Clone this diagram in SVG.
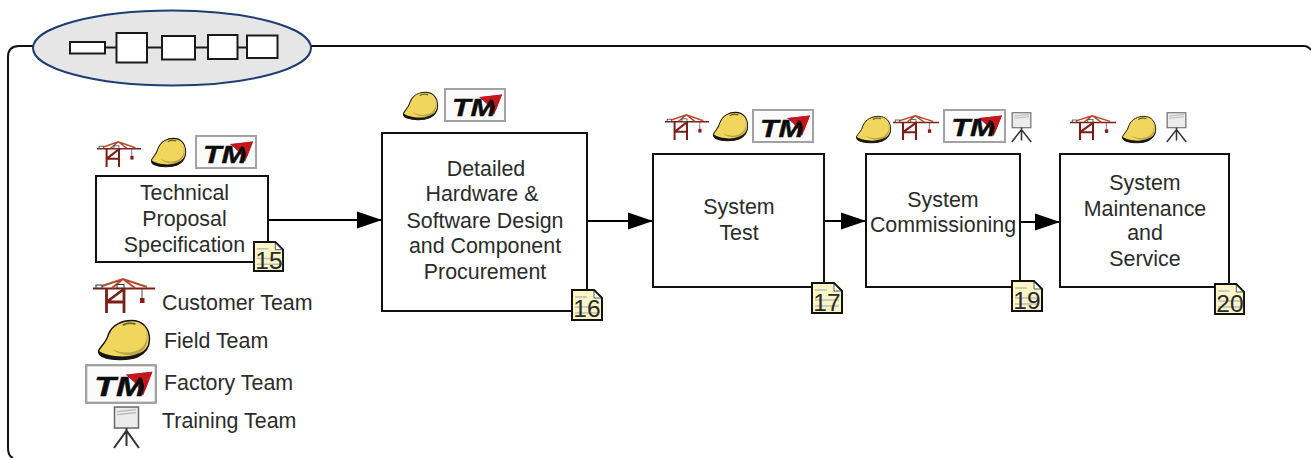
<svg xmlns="http://www.w3.org/2000/svg" width="1311" height="458" viewBox="0 0 1311 458">
<style>
text{font-family:"Liberation Sans",Arial,sans-serif;fill:#2b2b2b}
.l{font-size:21.4px;text-anchor:middle}
.t{font-size:21.4px}
.n{font-size:24.500px;text-anchor:middle}
.box{fill:#fff;stroke:#111;stroke-width:2}
.mini{fill:#fff;stroke:#1a1a1a;stroke-width:2}
.c{fill:none;stroke:#111;stroke-width:2}
.a{fill:none;stroke:#000;stroke-width:2;marker-end:url(#ah)}
</style>
<defs>
<marker id="ah" markerUnits="userSpaceOnUse" markerWidth="26" markerHeight="18" refX="25" refY="9" orient="auto"><path d="M0 0.500L25 9L0 17.500Z" fill="#000"/></marker>
<symbol id="crane" viewBox="0 0 62 35" preserveAspectRatio="none" overflow="visible">
<path d="M0 10.500H62" stroke="#7a1f18" stroke-width="2.200" fill="none"/>
<path d="M6 9L30 1L54 9M30 1L19 10M30 1L42 10" stroke="#b5492c" stroke-width="2" fill="none"/>
<path d="M13.500 10V35M31 10V35M13.500 24H31M13.500 24L31 11" stroke="#7a1f18" stroke-width="2.800" fill="none"/>
<rect x="3" y="7" width="6" height="3" fill="#fff" stroke="#333" stroke-width="1"/>
<rect x="24" y="6.500" width="7" height="3.500" fill="#fff" stroke="#333" stroke-width="1"/>
<path d="M49 11V20" stroke="#666" stroke-width="1.200"/><rect x="47" y="20" width="4.500" height="5" fill="#8e1b1b"/>
</symbol>
<symbol id="helmet" viewBox="0 0 50 39" preserveAspectRatio="none" overflow="visible">
<path d="M0.500 30C3 25 8 22 10 14C14 4 24 0.500 32 0.500C44 0.500 49.500 9 49.500 19C49.500 28 44 33 38 36C28 40 12 39 5 36C2 35 0.500 33 0.500 30Z" fill="#f0d65c" stroke="#151515" stroke-width="1.400"/>
<path d="M46 10C49 20 44 29 34 31C26 33 18 31 14 28C17 33 30 36 38 33C47 29 50 19 46 10Z" fill="#b9a64a"/>
<path d="M0.800 30C7 35 26 38 38 33C44 31 48 27 49.500 21C49 28 44 33 38 36C28 40 12 39 5 36C2 35 0.800 33 0.800 30Z" fill="#171510"/>
<path d="M24 5C28 2.500 32 2.500 36 4" stroke="#6a6330" stroke-width="1.800" fill="none"/>
</symbol>
<symbol id="tm" viewBox="0 0 62 34" preserveAspectRatio="none" overflow="visible">
<rect x="1" y="1" width="60" height="32" fill="#fbfbfb" stroke="#a2a2a2" stroke-width="2"/>
<path d="M35 9L58 6.500L50 27L44 17Z" fill="#c4161c"/>
<text x="8" y="27.500" textLength="44" lengthAdjust="spacingAndGlyphs" style="font-family:'Liberation Sans',Arial,sans-serif;font-size:24px;font-weight:bold;font-style:italic;fill:#0c0c0c;stroke:#0c0c0c;stroke-width:.4">TM</text>
<path d="M38 9L58 6.500L52 22L49 12Z" fill="#c4161c"/>
</symbol>
<symbol id="train" viewBox="0 0 27 41" preserveAspectRatio="none" overflow="visible">
<rect x="1.500" y="1" width="24" height="20.500" fill="#ececec" stroke="#6a6a6a" stroke-width="1.500"/>
<path d="M4 5.500L23 3.500M4 8.500L23 6.500" stroke="#b5b5b5" stroke-width="1.200"/>
<path d="M13.500 21.500V39M13.500 24L1 41M13.500 24L26 41" stroke="#333" stroke-width="2" fill="none"/>
</symbol>
<symbol id="note" viewBox="0 0 32 32" preserveAspectRatio="none" overflow="visible">
<path d="M1 1H23L31 9V31H1Z" fill="#fbf6c6" stroke="#111" stroke-width="2"/>
<path d="M23 2L30 9H23Z" fill="#fff" stroke="#333" stroke-width=".8"/>
<path d="M4 8H16M4 18H28M4 24H28" stroke="#bdbdbd" stroke-width="1.500"/>
</symbol>
</defs>

<g id="frame">
<path class="c" d="M1311 50Q1308 46 1304 46H19Q8 46 8 57V448Q8 456 13 458"/>
</g>
<g id="header">
<ellipse cx="172" cy="48" rx="139" ry="37.500" fill="#e6e6e6" stroke="#1f3d73" stroke-width="2"/>
<path d="M105 47.500H278" stroke="#1a1a1a" stroke-width="2"/>
<rect class="mini" x="70" y="42" width="35" height="11.500"/>
<rect class="mini" x="116.500" y="33" width="30.500" height="29.500"/>
<rect class="mini" x="162" y="36" width="33" height="23.500"/>
<rect class="mini" x="208" y="35" width="29.500" height="24"/>
<rect class="mini" x="247" y="35.500" width="30.500" height="22.500"/>
</g>

<g id="connectors">
<path class="a" d="M268 220H382"/>
<path class="a" d="M587 221H653"/>
<path class="a" d="M824 221H866"/>
<path class="a" d="M1020 222H1060"/>
</g>

<g id="node-15">
<rect class="box" x="96" y="176" width="172" height="86"/>
<text class="l" x="184.500" y="200">Technical</text>
<text class="l" x="184.500" y="226">Proposal</text>
<text class="l" x="184.500" y="252">Specification</text>
<use href="#crane" x="97" y="141" width="44" height="26"/>
<use href="#helmet" x="151" y="138" width="35" height="29"/>
<use href="#tm" x="195" y="135" width="62" height="34"/>
<use href="#note" x="253" y="241" width="31" height="31"/>
<text class="n" x="269" y="269">15</text>
</g>
<g id="node-16">
<rect class="box" x="382" y="133" width="205" height="178"/>
<text class="l" x="486" y="176">Detailed</text>
<text class="l" x="482" y="201">Hardware &amp;</text>
<text class="l" x="485" y="228">Software Design</text>
<text class="l" x="485" y="253">and Component</text>
<text class="l" x="485" y="279">Procurement</text>
<use href="#helmet" x="403" y="92" width="35" height="28"/>
<use href="#tm" x="444" y="88" width="62" height="34"/>
<use href="#note" x="571" y="289" width="32" height="32"/>
<text class="n" x="587" y="317">16</text>
</g>
<g id="node-17">
<rect class="box" x="653" y="154" width="171" height="133"/>
<text class="l" x="739" y="214">System</text>
<text class="l" x="739" y="240">Test</text>
<use href="#crane" x="665" y="114" width="44" height="26"/>
<use href="#helmet" x="713" y="112" width="35" height="29"/>
<use href="#tm" x="752" y="109" width="62" height="34"/>
<use href="#note" x="811" y="282" width="32" height="32"/>
<text class="n" x="827" y="311">17</text>
</g>
<g id="node-19">
<rect class="box" x="866" y="154" width="154" height="133"/>
<text class="l" x="943" y="207">System</text>
<text class="l" x="943" y="232">Commissioning</text>
<use href="#helmet" x="856" y="116" width="35" height="27"/>
<use href="#crane" x="893" y="115" width="46" height="25"/>
<use href="#tm" x="943" y="109" width="63" height="34"/>
<use href="#train" x="1011" y="112" width="21" height="30"/>
<use href="#note" x="1011" y="280" width="32" height="32"/>
<text class="n" x="1027" y="309">19</text>
</g>
<g id="node-20">
<rect class="box" x="1060" y="154" width="169" height="133"/>
<text class="l" x="1145" y="190">System</text>
<text class="l" x="1145" y="216">Maintenance</text>
<text class="l" x="1145" y="240">and</text>
<text class="l" x="1145" y="266">Service</text>
<use href="#crane" x="1070" y="115" width="46" height="25"/>
<use href="#helmet" x="1122" y="116" width="34" height="27"/>
<use href="#train" x="1166" y="112" width="21" height="30"/>
<use href="#note" x="1214" y="283" width="31" height="32"/>
<text class="n" x="1230" y="312">20</text>
</g>
<g id="legend">
<use href="#crane" x="93" y="278" width="62" height="35"/>
<text class="t" x="162" y="310">Customer Team</text>
<use href="#helmet" x="98" y="320" width="52" height="40"/>
<text class="t" x="164" y="348">Field Team</text>
<use href="#tm" x="85" y="364" width="72" height="40"/>
<text class="t" x="164" y="390">Factory Team</text>
<use href="#train" x="113" y="406" width="27" height="42"/>
<text class="t" x="162" y="428">Training Team</text>
</g>
</svg>
